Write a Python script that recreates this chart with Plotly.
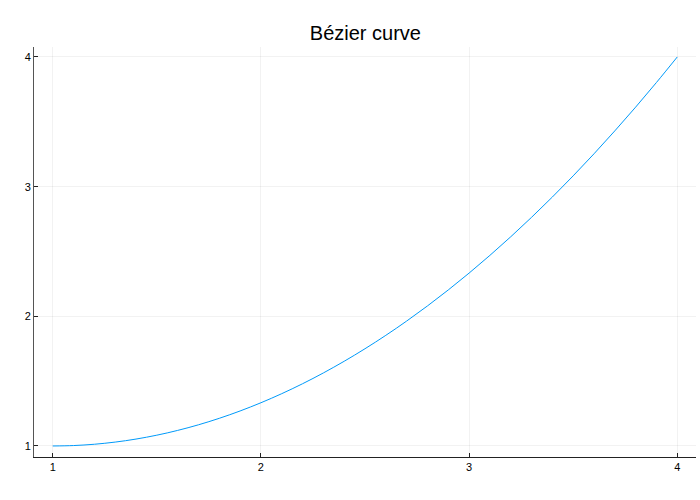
import plotly.graph_objects as go

# Values
x_vals = [1.0, 1.1, 1.2, 1.3, 1.4, 1.5, 1.6, 1.7, 1.8, 1.9, 2.0,
          2.1, 2.2, 2.3, 2.4, 2.5, 2.6, 2.7, 2.8, 2.9, 3.0,
          3.1, 3.2, 3.3, 3.4, 3.5, 3.6, 3.7, 3.8, 3.9, 4.0]
y_vals = [1.0, 1.0033, 1.0133, 1.03, 1.0533, 1.0833, 1.12, 1.1633, 1.2133, 1.27, 1.3333,
          1.4033, 1.48, 1.5633, 1.6533, 1.75, 1.8533, 1.9633, 2.08, 2.2033, 2.3333,
          2.47, 2.6133, 2.7633, 2.92, 3.0833, 3.2533, 3.43, 3.6133, 3.8033, 4.0]
x_ticks = [1, 2, 3, 4]
y_ticks = [1, 2, 3, 4]
title_text = "Bézier curve"

fig = go.Figure()
fig.add_trace(go.Scatter(x=x_vals, y=y_vals, mode="lines",
                         line=dict(color="#009AFA", width=1, shape="spline"),
                         showlegend=False))

axis_common = dict(
    showgrid=True, gridcolor="rgba(0,0,0,0.05)", gridwidth=1,
    zeroline=False, showline=True, linewidth=1,
    ticks="inside", ticklen=4, tickwidth=1, tickcolor="#222",
    tickfont=dict(family="Liberation Sans, Arial, sans-serif", size=11, color="#000"),
    mirror=False,
)

fig.update_layout(
    width=700, height=500,
    paper_bgcolor="white", plot_bgcolor="white",
    margin=dict(l=34, r=4, t=47, b=43),
    title=dict(text=title_text, x=0.522, xanchor="center", y=0.934, yanchor="middle",
               font=dict(family="Liberation Sans, Arial, sans-serif", size=20, color="#000")),
    xaxis=dict(range=[0.91, 4.09], tickvals=x_ticks, linecolor="#222", **axis_common),
    yaxis=dict(range=[0.915, 4.077], tickvals=y_ticks, linecolor="#555", **axis_common),
)

fig.write_html("out.html",
               config={"displayModeBar": False},
               post_script="document.body.style.margin='0';document.body.style.overflow='hidden';")
